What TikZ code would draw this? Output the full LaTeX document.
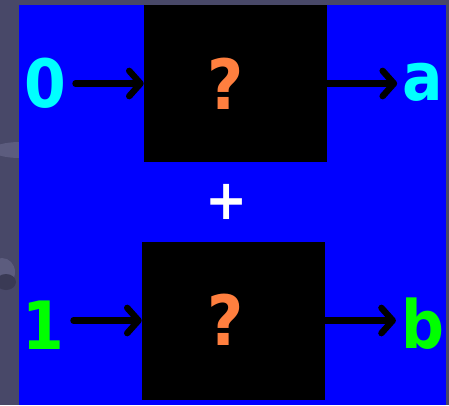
\documentclass[tikz,border=0pt]{standalone}
\usepackage{fontspec}
\setmainfont{DejaVu Sans Condensed}
\usetikzlibrary{arrows.meta}
\definecolor{bggrey}{HTML}{484868}
\definecolor{bglight}{HTML}{5C5C7E}
\definecolor{bgdark}{HTML}{3A3A55}
\definecolor{qorange}{HTML}{FF7F3F}
\definecolor{lcyan}{HTML}{00FFFF}
\definecolor{lgreen}{HTML}{00FF00}
\tikzset{
  blackbox/.style={fill=black, draw=none, inner sep=0pt},
  lbl/.style={font=\fontsize{50}{50}\selectfont\bfseries, inner xsep=4pt, inner ysep=0pt, anchor=base},
  inlbl/.style={lbl, inner xsep=7pt},
  qmark/.style={font=\fontsize{52}{52}\selectfont\bfseries, text=qorange, inner sep=0pt, anchor=base},
  arr/.style={line width=4.8pt, line cap=round, line join=round,
    -{Straight Barb[length=8.5pt,width=19pt,round]}}
}
\begin{document}
\begin{tikzpicture}[x=0.75pt,y=-0.75pt]
\fill[bggrey] (0,0) rectangle (449,405);
\useasboundingbox (0,0) rectangle (449,405);
% background decorations on the left strip
\fill[bglight] (20,150) ellipse [x radius=28, y radius=8];
\fill[bglight] (2,272) ellipse [x radius=13, y radius=14];
\fill[bgdark] (6,282) ellipse [x radius=10, y radius=8];
% blue panel
\fill[blue] (19,5) rectangle (446,405);
% boxes
\node[blackbox, minimum width=137.25pt, minimum height=117.75pt] (box1) at (235.5,83.5) {};
\node[blackbox, minimum width=137.25pt, minimum height=118.5pt] (box2) at (233.5,320.5) {};
% question marks
\node[qmark] (q1) at (226,109) {?};
\node[qmark] (q2) at (226,345) {?};
% plus
\node[lbl, text=white, inner xsep=0pt, font=\fontsize{42}{42}\selectfont\bfseries] (plus) at (227,219) {+};
% labels
\node[inlbl, text=lcyan] (in0) at (45,107) {0};
\node[lbl, text=lcyan] (outa) at (423,100) {a};
\node[inlbl, text=lgreen] (in1) at (43,349) {1};
\node[lbl, text=lgreen] (outb) at (423,348) {b};
% arrows
\draw[arr] (in0.east |- box1.west) -- (box1.west);
\draw[arr] (box1.east) -- (outa.west |- box1.east);
\draw[arr] (in1.east |- box2.west) -- (box2.west);
\draw[arr] (box2.east) -- (outb.west |- box2.east);
\end{tikzpicture}
\end{document}
